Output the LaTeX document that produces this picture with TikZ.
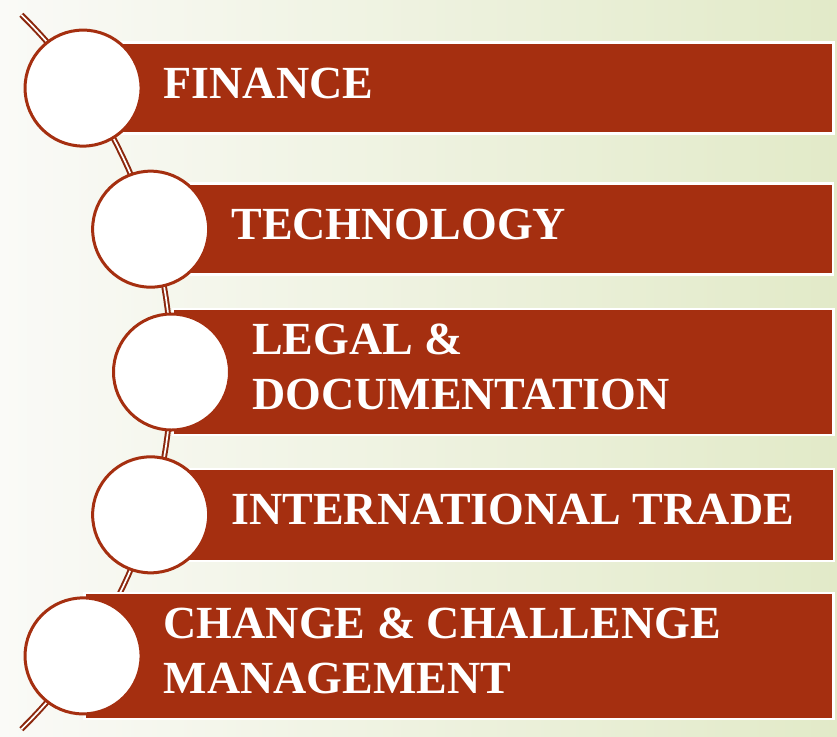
\documentclass[tikz,border=0pt]{standalone}
\usepackage{fontspec}
\setmainfont{Liberation Serif}
\usetikzlibrary{positioning}
\definecolor{rust}{RGB}{165,47,16}
\definecolor{paleleft}{RGB}{250,250,247}
\definecolor{paleright}{RGB}{226,234,200}
\tikzset{
  bar/.style={fill=rust,draw=white,line width=2.5pt,anchor=west,inner sep=0pt},
  disc/.style={circle,fill=white,draw=rust,line width=3pt,minimum size=116pt,inner sep=0pt},
  caption/.style={text=white,font=\fontsize{46}{55}\selectfont\bfseries,align=left,inner sep=0pt},
  chain/.style={draw=rust!85!black,line width=2pt,double=white,double distance=1.7pt}
}

\begin{document}
\begin{tikzpicture}[x=1pt,y=-1pt]
\useasboundingbox (0,0) rectangle (837,736);
\shade[left color=paleleft,right color=paleright] (0,0) rectangle (837,736);
\coordinate (hub) at (-328.5,372);
\draw[chain] plot[domain=-45.6:45.6,samples=60] ({-328.5+500*cos(\x)},{372+500*sin(\x)});
\foreach \n/\a in {1/-34.6,2/-16.6,3/0,4/16.6,5/34.6}
  \path (hub) ++(\a:500) coordinate (p\n);
\foreach \n/\w/\h in {1/749/91,2/681/91,3/660.5/126,4/682/92,5/749/126}
  \node[bar,minimum width=\w pt,minimum height=\h pt] (b\n) at (p\n) {};
\foreach \n in {1,...,5}
  \node[disc] (c\n) at (p\n) {};
\node[caption,right=21pt of c1,yshift=5pt] (t1) {FINANCE};
\node[caption,right=21pt of c2,yshift=5pt] (t2) {TECHNOLOGY};
\node[caption,right=21pt of c3,yshift=5pt] (t3) {LEGAL \&\\DOCUMENTATION};
\node[caption,right=21pt of c4,yshift=5pt] (t4) {INTERNATIONAL TRADE};
\node[caption,right=21pt of c5,yshift=5pt] (t5) {CHANGE \& CHALLENGE\\MANAGEMENT};
\end{tikzpicture}
\end{document}
